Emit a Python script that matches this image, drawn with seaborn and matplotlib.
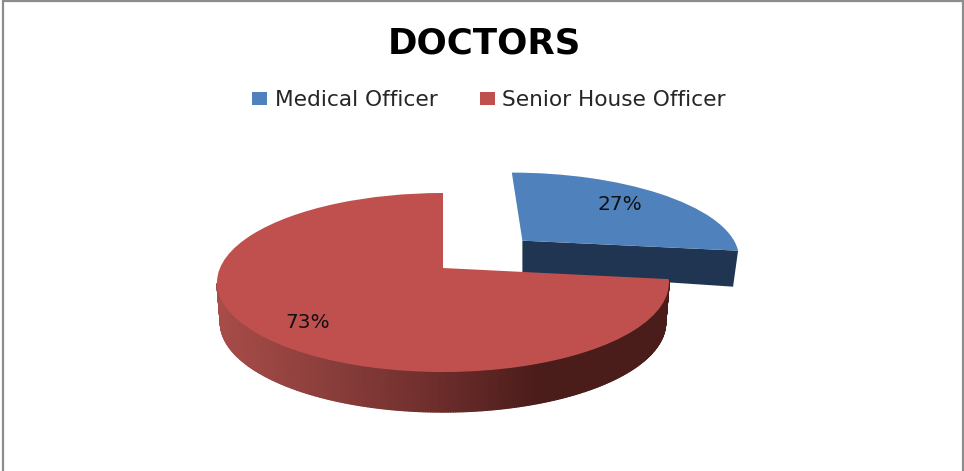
import numpy as np
import matplotlib
matplotlib.use("Agg")
import matplotlib.pyplot as plt
import seaborn as sns
from matplotlib.collections import PolyCollection
from matplotlib.colors import LinearSegmentedColormap
from matplotlib.patches import Rectangle
from matplotlib.transforms import Transform

categories = ["Medical Officer", "Senior House Officer"]
shares = [27, 73]
top_colors = ["#4F81BD", "#C0504D"]
title_text = "DOCTORS"

sns.set_theme(style="white")
plt.rcParams["font.family"] = ["DejaVu Sans"]

# Tilted-disc view: unit pie coordinates -> picture pixels
APEX_X, APEX_Y = 443.0, 268.0
SCALE_X, SCALE_Y, TILT = 223.0, 87.15, 0.162
DEPTH = 40.0
BASE_SHRINK = 0.985


def project(xy):
    xy = np.asarray(xy, dtype=float)
    u, v = xy[..., 0], xy[..., 1]
    w = 1 + TILT * v
    return np.stack([APEX_X + SCALE_X * u / w, APEX_Y - SCALE_Y * v / w], axis=-1)


class TiltedDisc(Transform):
    input_dims = 2
    output_dims = 2

    def transform_non_affine(self, values):
        return project(values)


fig = plt.figure(figsize=(9.64, 4.71), dpi=100, facecolor="white")
ax = fig.add_axes([0, 0, 1, 1])

wedges, _, pcts = ax.pie(
    shares,
    colors=sns.color_palette(top_colors),
    startangle=90,
    counterclock=False,
    explode=[0.5, 0],
    autopct="%1.0f%%",
    pctdistance=0.75,
    wedgeprops={"linewidth": 0},
    textprops={"fontsize": 14.5, "color": "#111111"},
)
ax.set_aspect("auto")
ax.set_xlim(0, 964)
ax.set_ylim(471, 0)
ax.axis("off")

tilt = TiltedDisc() + ax.transData
blue, red = wedges
for w, z in ((blue, 3), (red, 6)):
    w.set_transform(tilt)
    w.set_zorder(z)
    w.set_clip_on(False)
for t, pos in zip(pcts, [(0.90, 0.82), (-0.55, -0.565)]):
    t.set_position(pos)
    t.set_transform(tilt)
    t.set_zorder(8)

# Dark cut face under the detached slice
c = np.array(blue.center)
a = np.deg2rad(min(blue.theta1, blue.theta2))
edge = project(np.array([c, c + np.array([np.cos(a), np.sin(a)])]))
face = np.array([edge[0], edge[1], edge[1] + [-5, 36], edge[0] + [0, 32]])
ax.fill(face[:, 0], face[:, 1], color="#1F3552", lw=0, zorder=2)

# Shaded rim of the large slice: the shade runs from left to right
rim_cmap = LinearSegmentedColormap.from_list(
    "rim",
    [(0.0, "#A84C48"), (0.25, "#8A3E3B"), (0.48, "#6E2E2C"), (0.72, "#4A1C1A"), (1.0, "#4A1C1A")],
)
theta = np.deg2rad(np.linspace(190, 360 + min(red.theta1, red.theta2, key=abs), 300))
ring = project(np.column_stack([np.cos(theta), np.sin(theta)]))
base = ring + [0, DEPTH]
base[:, 0] = APEX_X + (base[:, 0] - APEX_X) * BASE_SHRINK
quads = [[ring[i], ring[i + 1], base[i + 1], base[i]] for i in range(len(ring) - 1)]
mid_x = (ring[:-1, 0] + ring[1:, 0]) / 2
rim = PolyCollection(
    quads,
    array=(mid_x - mid_x.min()) / (mid_x.max() - mid_x.min()),
    cmap=rim_cmap,
    edgecolors="face",
    linewidths=1.0,
    zorder=5,
)
ax.add_collection(rim)

ax.text(484, 43, title_text, ha="center", va="center", fontsize=25.7,
        fontweight="bold", color="black")

ax.legend(
    wedges,
    categories,
    ncol=2,
    frameon=False,
    loc="center",
    bbox_to_anchor=(489 / 964, 1 - 100 / 471),
    fontsize=15.6,
    handlelength=0.7,
    handleheight=0.55,
    handletextpad=0.35,
    columnspacing=1.95,
    labelcolor="#262626",
)

# Thin grey frame of the original chart
fig.add_artist(Rectangle((3 / 964, -0.01), 960 / 964, 1.008, transform=fig.transFigure,
                         fill=False, edgecolor="#8C8C8C", linewidth=1.6))

fig.savefig("out.png", dpi=100, facecolor="white")
